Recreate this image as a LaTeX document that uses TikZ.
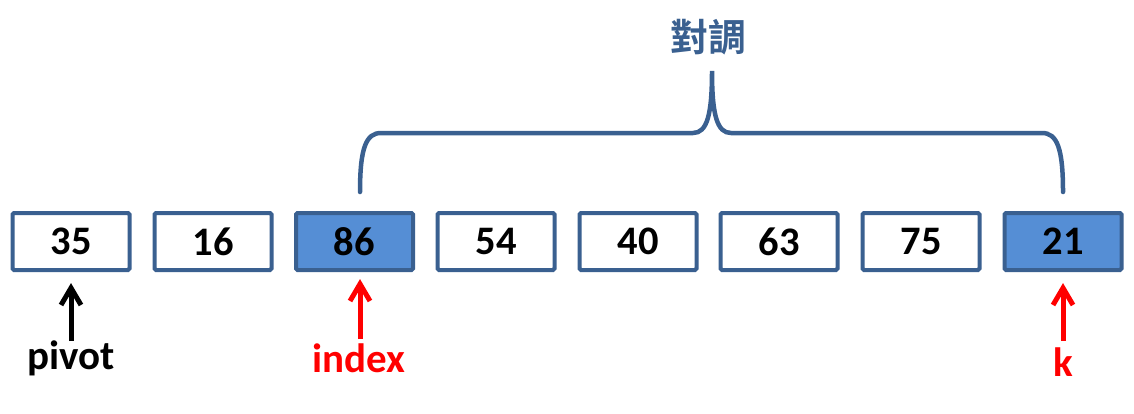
\documentclass[tikz,border=0pt]{standalone}
\usepackage{fontspec}
\setmainfont{Carlito}
\newfontfamily\cjk{Noto Sans CJK TC Bold}
\usetikzlibrary{calc}
\definecolor{edgeblue}{HTML}{3A6090}
\definecolor{fillblue}{HTML}{558ED5}
\definecolor{txtred}{HTML}{FF0000}
\tikzset{
  cell/.style={draw=edgeblue, line width=4pt, rounded corners=1.5pt, minimum width=117pt, minimum height=57pt, inner sep=0pt, font=\fontsize{40.5}{48}\selectfont\bfseries, text=black, fill=white},
  hot/.style={cell, fill=fillblue},
  lbl/.style={inner sep=0pt, anchor=base, font=\fontsize{41}{48}\selectfont\bfseries},
  ptr/.style={line width=5pt},
  barb/.style={line width=5pt, line join=miter},
  bracepath/.style={draw=edgeblue, line width=4.5pt, line cap=round}
}
\begin{document}
\begin{tikzpicture}[x=1pt,y=-1pt]
\useasboundingbox (0,0) rectangle (1134,413);
\node[cell] (b1) at (71,241.5) {35};
\node[cell] (b2) at (213,241.5) {16};
\node[hot]  (b3) at (354.5,241.5) {86};
\node[cell] (b4) at (496,241.5) {54};
\node[cell] (b5) at (638,241.5) {40};
\node[cell] (b6) at (779,241.5) {63};
\node[cell] (b7) at (921,241.5) {75};
\node[hot]  (b8) at (1063,241.5) {21};
% labels
\node[lbl, text=black] (pv) at (71,369) {pivot};
\node[lbl, text=txtred] (ix) at (359,372) {index};
\node[lbl, text=txtred] (kk) at (1063,376) {k};
% arrows
\coordinate (pvs) at (71,341);
\coordinate (pvt) at ($(b1.south)+(0,16)$);
\coordinate (ixs) at (360,339);
\coordinate (ixt) at (360,284);
\coordinate (kks) at (1063,341);
\coordinate (kkt) at ($(b8.south)+(0,16)$);
\draw[ptr, black] (pvs) -- (pvt);
\draw[barb, black] ($(pvt)+(-10,17)$) -- (pvt) -- ($(pvt)+(10,17)$);
\draw[ptr, txtred] (ixs) -- (ixt);
\draw[barb, txtred] ($(ixt)+(-10,17)$) -- (ixt) -- ($(ixt)+(10,17)$);
\draw[ptr, txtred] (kks) -- (kkt);
\draw[barb, txtred] ($(kkt)+(-10,17)$) -- (kkt) -- ($(kkt)+(10,17)$);
% brace
\coordinate (bl) at (360,192);
\coordinate (br) at (1063,192);
\coordinate (tip) at (712,71);
\draw[bracepath] (bl) .. controls (360,148) and (366,133) .. (381,133)
  -- (693,133) .. controls (707,133) and (712,115) .. (tip)
  .. controls (712,115) and (717,133) .. (731,133)
  -- (1042,133) .. controls (1057,133) and (1063,148) .. (br);
\node[inner sep=0pt, text=edgeblue, font=\cjk\fontsize{38}{44}\selectfont] (sw) at (708,37) {對調};
\end{tikzpicture}
\end{document}
